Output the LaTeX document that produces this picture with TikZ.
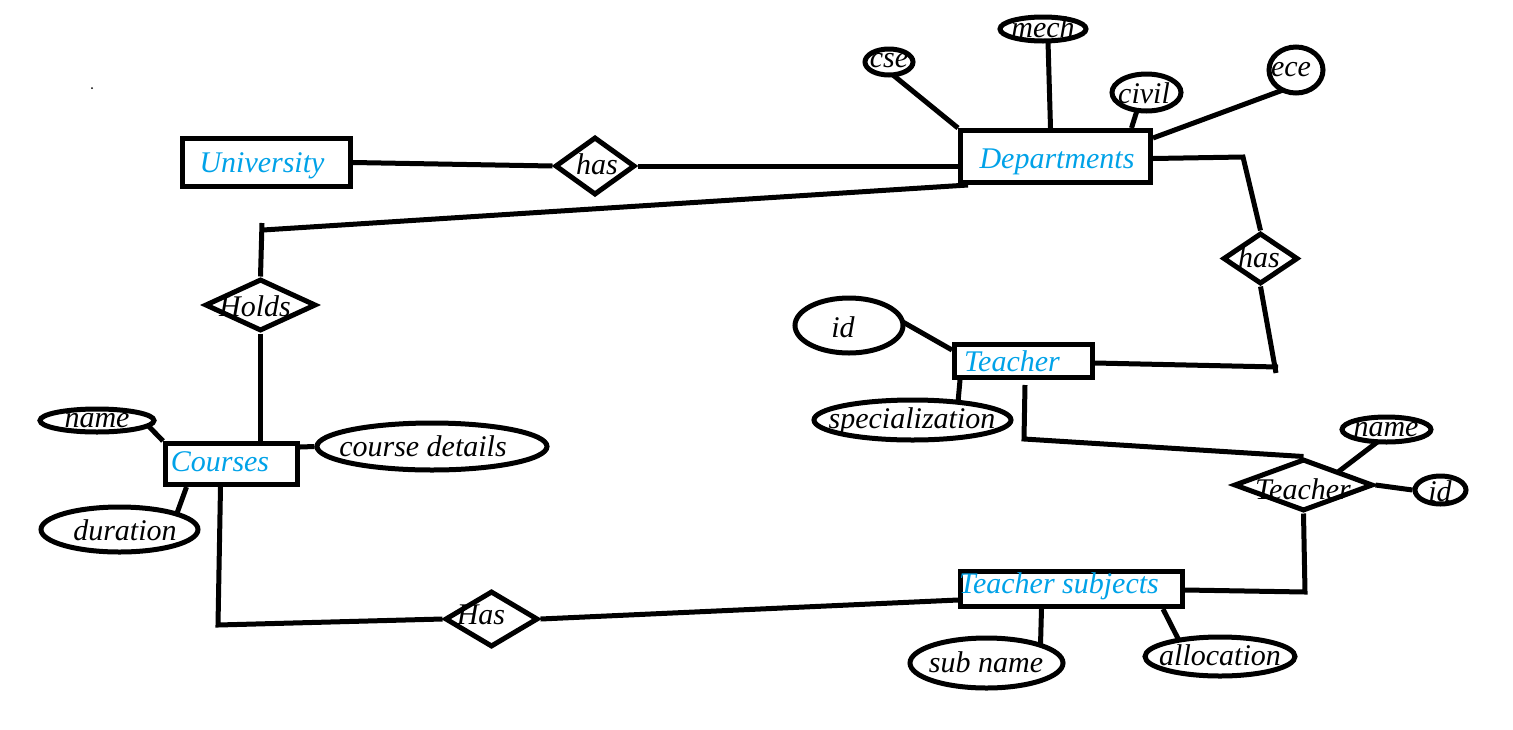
\documentclass[tikz,border=0pt]{standalone}
\usepackage{fontspec}
\setmainfont{Liberation Serif}
\usetikzlibrary{shapes.geometric}
\definecolor{entblue}{RGB}{0,162,232}
\begin{document}
\begin{tikzpicture}[x=1pt,y=-1pt,
  every path/.style={line width=5pt},
  entity/.style={draw, rectangle, inner sep=0pt},
  rel/.style={draw, diamond, inner sep=0pt, aspect=1},
  attr/.style={draw, ellipse, inner sep=0pt},
  lbl/.style={inner sep=0pt, font=\itshape\fontsize{30}{32}\selectfont},
  elbl/.style={lbl, text=entblue},
  conn/.style={line width=5pt}]
\useasboundingbox[fill=white] (0,0) rectangle (1513,729);
\fill (92,88) circle (1pt);

% entities
\node[entity, minimum width=168pt, minimum height=48pt] (univ) at (266.5,162.5) {};
\node[entity, minimum width=190pt, minimum height=52pt] (dept) at (1055.5,156.5) {};
\node[entity, minimum width=138pt, minimum height=33pt] (teacher) at (1023.5,361) {};
\node[entity, minimum width=132pt, minimum height=41pt] (courses) at (231.5,464) {};
\node[entity, minimum width=222pt, minimum height=35pt] (ts) at (1071.5,589) {};

% relationships
\node[rel, minimum width=80pt, minimum height=58pt] (has1) at (595,166) {};
\node[rel, minimum width=111pt, minimum height=52pt] (holds) at (260.5,305) {};
\node[rel, minimum width=75pt, minimum height=51pt] (has3) at (1260.5,258.5) {};
\node[rel, minimum width=139pt, minimum height=52pt] (teachrel) at (1303.5,485) {};
\node[rel, minimum width=93pt, minimum height=56pt] (has2) at (491.5,619) {};

% attributes
\node[attr, minimum width=48pt, minimum height=26pt] (cse) at (889,62) {};
\node[attr, minimum width=86pt, minimum height=24pt] (mech) at (1043,29) {};
\node[attr, minimum width=69pt, minimum height=37pt] (civil) at (1146.5,92.5) {};
\node[attr, minimum width=54pt, minimum height=46pt] (ece) at (1296,70) {};
\node[attr, minimum width=108pt, minimum height=55pt] (tid) at (849,325.5) {};
\node[attr, minimum width=197pt, minimum height=40pt] (spec) at (912.5,420) {};
\node[attr, minimum width=114pt, minimum height=23pt] (cname) at (97,420.5) {};
\node[attr, minimum width=157pt, minimum height=45pt] (dur) at (119.5,529.5) {};
\node[attr, minimum width=230pt, minimum height=47pt] (cdet) at (432,446.5) {};
\node[attr, minimum width=89pt, minimum height=25pt] (tname) at (1386.5,429.5) {};
\node[attr, minimum width=51pt, minimum height=28pt] (tidr) at (1440.5,490) {};
\node[attr, minimum width=153pt, minimum height=50pt] (subname) at (986.5,663) {};
\node[attr, minimum width=150pt, minimum height=39pt] (alloc) at (1220,656.5) {};

% texts
\node[elbl] (tuniv) at (262,166) {University};
\node[elbl] (tdept) at (1057,162) {Departments};
\node[elbl] (tteacher) at (1012,361) {Teacher};
\node[elbl] (tcourses) at (220,462) {Courses};
\node[elbl] (tts) at (1059,586) {Teacher subjects};
\node[lbl] (thas1) at (597,164) {has};
\node[lbl] (tholds) at (255,306) {Holds};
\node[lbl] (thas3) at (1259,257) {has};
\node[lbl] (tteachrel) at (1303,489) {Teacher};
\node[lbl] (thas2) at (481,615) {Has};
\node[lbl] (tcse) at (889,61) {cse};
\node[lbl] (tmech) at (1043,27) {mech};
\node[lbl] (tcivil) at (1144,93) {civil};
\node[lbl] (tece) at (1291,70) {ece};
\node[lbl] (ttid) at (843,327) {id};
\node[lbl] (tspec) at (912,421) {specialization};
\node[lbl] (tcname) at (97,421) {name};
\node[lbl] (tdur) at (125,530) {duration};
\node[lbl] (tcdet) at (423,446) {course details};
\node[lbl] (ttname) at (1386,430) {name};
\node[lbl] (ttidr) at (1440,491) {id};
\node[lbl] (tsubname) at (986,662) {sub name};
\node[lbl] (talloc) at (1220,655) {allocation};

% bend points and free ends
\coordinate (k0) at (262,223);
\coordinate (k1) at (263,230);
\coordinate (k2) at (218,625);
\coordinate (k3) at (1305,592);
\coordinate (k4) at (1025,385);
\coordinate (k5) at (1024,439);
\coordinate (k6) at (1278,367);
\coordinate (k7) at (1276,373);
\coordinate (k8) at (1243,157);

% connectors
\draw[conn] (univ.east) -- (has1.west);
\draw[conn] (has1.east) -- (has1.east -| dept.west);
\draw[conn] ([xshift=10pt]dept.south west) -- (k1);
\draw[conn] (k0) -- (holds.north);
\draw[conn] (holds.south) -- (holds.south |- courses.north);
\draw[conn] ([shift={(51,5)}]cname.center) -- (courses.north west);
\draw[conn] ([xshift=-45pt]courses.south) -- ([shift={(57,-15)}]dur.center);
\draw[conn] ([yshift=17pt]courses.east) -- (cdet.west);
\draw[conn] ([xshift=-11pt]courses.south) -- (k2) -- (has2.west);
\draw[conn] (has2.east) -- ([yshift=-11pt]ts.west);
\draw[conn] ([xshift=-30pt]ts.south) -- ([shift={(54,-18)}]subname.center);
\draw[conn] ([xshift=91.5pt]ts.south) -- ([shift={(-41,-16)}]alloc.center);
\draw[conn] ([yshift=-1pt]ts.east) -- (k3) -- (teachrel.south);
\draw[conn] (k4) -- (k5) -- (teachrel.north);
\draw[conn] ([shift={(-8.5,12)}]tname.center) -- ([shift={(34.5,-13)}]teachrel.center);
\draw[conn] (teachrel.east) -- (tidr.west);
\draw[conn] ([shift={(53,-4)}]tid.center) -- ([yshift=-8pt]teacher.north west);
\draw[conn] ([xshift=8pt]teacher.south west) -- ([shift={(45.5,-17.7)}]spec.center);
\draw[conn] ([yshift=-2pt]teacher.east) -- (k6);
\draw[conn] (k7) -- (has3.south);
\draw[conn] ([yshift=-2pt]dept.east) -- (k8) -- (has3.north);
\draw[conn] ([shift={(4,13)}]cse.center) -- (dept.north west);
\draw[conn] ([shift={(5,12)}]mech.center) -- ([xshift=-5pt]dept.north);
\draw[conn] ([shift={(-9.5,18)}]civil.center) -- ([xshift=76pt]dept.north);
\draw[conn] ([shift={(-13,20)}]ece.center) -- ([yshift=-10pt]dept.north east);
\end{tikzpicture}
\end{document}
